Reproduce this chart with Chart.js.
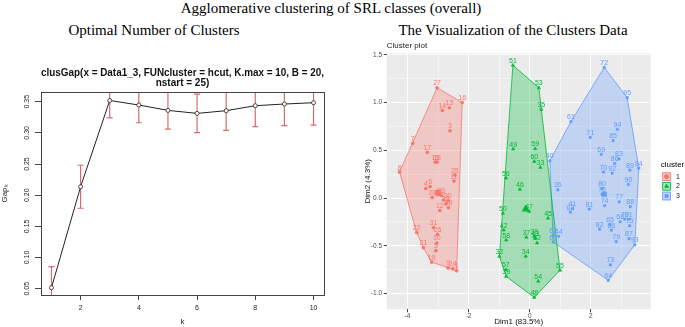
<!DOCTYPE html>
<html>
<head>
<meta charset="utf-8">
<title>Agglomerative clustering of SRL classes</title>
<script src="https://cdn.jsdelivr.net/npm/chart.js@4.4.1/dist/chart.umd.min.js"></script>
<style>
  body { margin: 0; background: #fff; }
  #page { position: relative; width: 685px; height: 327px; overflow: hidden; }
  .head { position: absolute; font-family: "Liberation Serif", "Times New Roman", serif; font-size: 15px; line-height: 15px; white-space: nowrap; transform: translateX(-50%); color: #000; }
  #gap { position: absolute; left: 0; top: 55px; }
  #clus { position: absolute; left: 340px; top: 38px; }
</style>
</head>
<body>
<div id="page">
  <div class="head" style="left:331px;top:1px">Agglomerative clustering of SRL classes (overall)</div>
  <div class="head" style="left:154px;top:23px">Optimal Number of Clusters</div>
  <div class="head" style="left:513px;top:23px">The Visualization of the Clusters Data</div>
  <canvas id="gap" width="340" height="272"></canvas>
  <canvas id="clus" width="345" height="289"></canvas>
</div>
<script>
// --- gap statistic (left) ---
var kValues = [1, 2, 3, 4, 5, 6, 7, 8, 9, 10];
var gapValues = [0.0516, 0.2136, 0.3520, 0.3447, 0.3361, 0.3313, 0.3356, 0.3436, 0.3463, 0.3484];
var gapSE = [0.0337, 0.0345, 0.0280, 0.0284, 0.0300, 0.0310, 0.0316, 0.0337, 0.0348, 0.0358];
var gapTicksX = [2, 4, 6, 8, 10];
var gapTicksY = [0.05, 0.10, 0.15, 0.20, 0.25, 0.30, 0.35];

// --- cluster plot (right) ---
var redLabels = ['1','2','3','4','5','6','7','8','9','10','11','12','13','14','15','16','17','18','19','20','21','22','23','24','25','26','27','28','29','30','31'];
var redX = [-2.39,-2.82,-2.61,-3.40,-3.07,-3.26,-3.83,-4.26,-2.67,-3.04,-2.48,-2.94,-2.63,-2.86,-3.09,-2.21,-3.35,-3.03,-3.21,-3.19,-3.48,-3.70,-2.74,-2.52,-2.45,-3.02,-3.03,-2.66,-2.90,-2.68,-3.15];
var redY = [-0.76,-0.02,0.704,0.10,-0.55,0.12,0.572,0.272,-0.73,-0.47,0.178,-0.13,0.945,0.917,0.377,1.00,0.478,0.377,-0.67,0.007,-0.52,-0.36,-0.06,-0.74,0.24,-0.38,1.154,-0.10,0.03,-0.03,-0.31];

var greenLabels = ['51','53','35','49','59','60','33','56','46','47','50','45','42','58','37','38','43','52','32','34','57','39','55','54','48'];
var greenX = [-0.55,0.30,0.38,-0.54,0.18,0.15,0.35,-0.78,-0.32,-0.02,-0.88,0.60,-0.85,-0.77,-0.11,0.15,0.18,0.24,-0.99,-0.13,-0.78,-0.77,0.99,0.28,0.15];
var greenY = [1.39,1.154,0.928,0.513,0.516,0.384,0.321,0.209,0.091,-0.14,-0.16,-0.21,-0.335,-0.44,-0.41,-0.40,-0.42,-0.47,-0.61,-0.61,-0.75,-0.82,-0.756,-0.87,-1.04];

var blueLabels = ['72','95','61','94','71','85','69','83','86','84','89','70','92','90','80','76','74','77','88','81','41','63','78','91','68','75','65','66','82','87','93','79','73','64','40','36','62','44','67'];
var blueX = [2.44,3.19,1.35,2.87,1.98,2.73,2.34,2.92,2.78,3.57,3.28,2.41,2.70,3.23,2.37,2.37,2.45,2.93,3.29,1.95,1.40,1.33,3.11,3.24,2.96,3.27,2.63,2.67,2.29,3.25,3.44,2.83,2.64,2.57,0.66,0.92,0.77,0.95,0.77];
var blueY = [1.367,1.05,0.80,0.72,0.635,0.60,0.457,0.41,0.36,0.314,0.293,0.272,0.26,0.143,0.10,0.04,-0.08,-0.04,-0.09,-0.115,-0.11,-0.146,-0.22,-0.22,-0.25,-0.29,-0.275,-0.335,-0.325,-0.425,-0.49,-0.455,-0.70,-0.86,0.39,0.087,-0.39,-0.40,-0.46];

var clusterNames = ['1', '2', '3'];
var centerX = [-3.00, -0.13, 2.44];
var centerY = [0.055, -0.115, 0.04];
var dimTicksX = [-4, -3, -2, -1, 0, 1, 2, 3];
var dimTicksY = [-1, -0.75, -0.5, -0.25, 0, 0.25, 0.5, 0.75, 1, 1.25, 1.5];

var clusterColors = ['#F8766D', '#00BA38', '#619CFF'];
var hullFills = ['rgba(248,118,109,0.3)', 'rgba(0,186,56,0.3)', 'rgba(97,156,255,0.3)'];
var clusterShapes = ['circle', 'triangle', 'rect'];

Chart.defaults.font.family = '"Liberation Sans", Arial, sans-serif';

function hull(xs, ys) {
  var p = xs.map(function(x, i) { return [x, ys[i]]; }).sort(function(a, b) { return a[0] - b[0] || a[1] - b[1]; });
  var cross = function(o, a, b) { return (a[0]-o[0])*(b[1]-o[1]) - (a[1]-o[1])*(b[0]-o[0]); };
  var lower = [], upper = [];
  p.forEach(function(q) {
    while (lower.length >= 2 && cross(lower[lower.length-2], lower[lower.length-1], q) <= 0) lower.pop();
    lower.push(q);
  });
  p.slice().reverse().forEach(function(q) {
    while (upper.length >= 2 && cross(upper[upper.length-2], upper[upper.length-1], q) <= 0) upper.pop();
    upper.push(q);
  });
  var h = lower.slice(0, -1).concat(upper.slice(0, -1));
  h.push(h[0]);
  return h.map(function(q) { return {x: q[0], y: q[1]}; });
}

// red error bars, clipped to the plot box like base R
var errorBars = {
  id: 'errorBars',
  beforeDatasetsDraw: function(chart) {
    var ctx = chart.ctx, a = chart.chartArea, x = chart.scales.x, y = chart.scales.y;
    ctx.save();
    ctx.beginPath(); ctx.rect(a.left, a.top, a.right - a.left, a.bottom - a.top); ctx.clip();
    ctx.strokeStyle = 'rgba(205,70,70,0.8)';
    ctx.lineWidth = 1.2;
    kValues.forEach(function(k, i) {
      var px = x.getPixelForValue(k);
      var lo = y.getPixelForValue(gapValues[i] - gapSE[i]);
      var hi = y.getPixelForValue(gapValues[i] + gapSE[i]);
      ctx.beginPath();
      ctx.moveTo(px, lo); ctx.lineTo(px, hi);
      ctx.moveTo(px - 3, lo); ctx.lineTo(px + 3, lo);
      ctx.moveTo(px - 3, hi); ctx.lineTo(px + 3, hi);
      ctx.stroke();
    });
    ctx.restore();
  }
};

var plotBox = {
  id: 'plotBox',
  afterDatasetsDraw: function(chart) {
    var ctx = chart.ctx, a = chart.chartArea;
    ctx.save();
    ctx.strokeStyle = '#444';
    ctx.lineWidth = 1;
    ctx.strokeRect(Math.round(a.left) + 0.5, Math.round(a.top) + 0.5, Math.round(a.right - a.left), Math.round(a.bottom - a.top));
    ctx.restore();
  }
};

new Chart(document.getElementById('gap'), {
  type: 'scatter',
  data: {
    datasets: [{
      data: kValues.map(function(k, i) { return {x: k, y: gapValues[i]}; }),
      showLine: true,
      borderColor: '#222',
      borderWidth: 1,
      pointStyle: 'circle',
      pointRadius: 2,
      pointBorderWidth: 0.8,
      pointBackgroundColor: '#fff',
      pointBorderColor: '#222'
    }]
  },
  options: {
    responsive: false,
    animation: false,
    layout: { padding: { left: 0, right: 16, top: 0, bottom: 0 } },
    plugins: {
      legend: { display: false },
      tooltip: { enabled: false },
      title: {
        display: true,
        fullSize: false,
        text: ['clusGap(x = Data1_3, FUNcluster = hcut, K.max = 10, B = 20,', 'nstart = 25)'],
        font: { size: 10, weight: 'bold', lineHeight: 1 },
        color: '#111',
        padding: { top: 13, bottom: 4 }
      }
    },
    scales: {
      x: {
        type: 'linear', min: 0.64, max: 10.36,
        afterBuildTicks: function(s) { s.ticks = gapTicksX.map(function(v) { return {value: v}; }); },
        afterFit: function(s) { s.height = 32; },
        grid: { drawOnChartArea: false, tickLength: 5, tickColor: '#444' },
        border: { display: false },
        ticks: { font: { size: 7 }, color: '#222', padding: 3.5, maxRotation: 0, autoSkip: false },
        title: { display: true, text: 'k', font: { size: 8 }, color: '#222', padding: 0 }
      },
      y: {
        type: 'linear', min: 0.0399, max: 0.3656,
        afterBuildTicks: function(s) { s.ticks = gapTicksY.map(function(v) { return {value: v}; }); },
        afterFit: function(s) { s.width = 41; },
        grid: { drawOnChartArea: false, tickLength: 6, tickColor: '#444' },
        border: { display: false },
        ticks: { font: { size: 7 }, color: '#222', padding: 1, minRotation: 90, maxRotation: 90, crossAlign: 'center', autoSkip: false,
                 callback: function(v) { return v.toFixed(2); } },
        title: { display: true, text: 'Gapₖ', font: { size: 8 }, color: '#222', padding: 0 }
      }
    }
  },
  plugins: [errorBars, plotBox]
});

// --- right chart helpers ---
var panelBg = {
  id: 'panelBg',
  beforeDraw: function(chart) {
    var ctx = chart.ctx, a = chart.chartArea;
    ctx.save();
    ctx.fillStyle = '#EBEBEB';
    ctx.fillRect(a.left, a.top, a.right - a.left, a.bottom - a.top);
    ctx.restore();
  }
};

var pointLabels = {
  id: 'pointLabels',
  afterDatasetsDraw: function(chart) {
    var ctx = chart.ctx;
    ctx.save();
    ctx.font = '7px "Liberation Sans", Arial, sans-serif';
    ctx.textAlign = 'center';
    ctx.textBaseline = 'alphabetic';
    chart.data.datasets.forEach(function(ds, i) {
      if (!ds.pointText) return;
      var meta = chart.getDatasetMeta(i);
      ctx.fillStyle = ds.borderColor;
      meta.data.forEach(function(pt, j) {
        ctx.fillText(ds.pointText[j], pt.x, pt.y - 2.5);
      });
    });
    ctx.restore();
  }
};

var clusterLegend = {
  id: 'clusterLegend',
  afterDraw: function(chart) {
    var ctx = chart.ctx, x0 = 322.3, y0 = 134.3, key = 8.6;
    ctx.save();
    ctx.font = '8px "Liberation Sans", Arial, sans-serif';
    ctx.textBaseline = 'middle';
    ctx.textAlign = 'left';
    ctx.fillStyle = '#000';
    ctx.fillText('cluster', 320.7, 127);
    clusterNames.forEach(function(name, i) {
      var y = y0 + i * 9.7;
      ctx.fillStyle = '#F2F2F2';
      ctx.fillRect(x0, y, key, key);
      ctx.fillStyle = hullFills[i];
      ctx.fillRect(x0, y, key, key);
      ctx.strokeStyle = clusterColors[i];
      ctx.lineWidth = 0.8;
      ctx.strokeRect(x0 + 0.4, y + 0.4, key - 0.8, key - 0.8);
      ctx.fillStyle = clusterColors[i];
      Chart.helpers.drawPoint(ctx, { pointStyle: clusterShapes[i], radius: 2.2, borderWidth: 0.5, rotation: 0 }, x0 + key / 2, y + key / 2);
      ctx.fillStyle = '#1a1a1a';
      ctx.font = '7px "Liberation Sans", Arial, sans-serif';
      ctx.fillText(name, 336, y + key / 2);
    });
    ctx.restore();
  }
};

function pointSet(labels, xs, ys, i) {
  return {
    type: 'scatter',
    data: xs.map(function(x, j) { return {x: x, y: ys[j]}; }),
    pointText: labels,
    pointStyle: clusterShapes[i],
    pointRadius: i === 1 ? 2 : 1.6,
    backgroundColor: clusterColors[i],
    borderColor: clusterColors[i],
    pointBorderWidth: 0.5,
    order: 1
  };
}
function hullSet(xs, ys, i) {
  return {
    type: 'line',
    data: hull(xs, ys),
    showLine: true,
    borderColor: clusterColors[i],
    borderWidth: 0.8,
    backgroundColor: hullFills[i],
    fill: 'shape',
    pointRadius: 0,
    tension: 0,
    order: 2
  };
}

var isMajorX = function(v) { return v % 2 === 0; };
var isMajorY = function(v) { return Math.abs(v * 2 - Math.round(v * 2)) < 1e-9; };

new Chart(document.getElementById('clus'), {
  type: 'scatter',
  data: {
    datasets: [
      hullSet(redX, redY, 0),
      hullSet(greenX, greenY, 1),
      hullSet(blueX, blueY, 2),
      pointSet(redLabels, redX, redY, 0),
      pointSet(greenLabels, greenX, greenY, 1),
      pointSet(blueLabels, blueX, blueY, 2),
      {
        type: 'scatter',
        data: centerX.map(function(x, i) { return {x: x, y: centerY[i]}; }),
        pointStyle: clusterShapes,
        pointRadius: [3.2, 4.2, 3.2],
        backgroundColor: clusterColors,
        borderColor: clusterColors,
        pointBorderWidth: 0.5,
        order: 0
      }
    ]
  },
  options: {
    responsive: false,
    animation: false,
    layout: { padding: { left: 0, right: 34.3, top: 0, bottom: 0 } },
    plugins: {
      legend: { display: false },
      tooltip: { enabled: false },
      title: {
        display: true,
        fullSize: false,
        align: 'start',
        text: 'Cluster plot',
        font: { size: 8, weight: 'normal', lineHeight: 1.2 },
        color: '#222',
        padding: { top: 3.2, bottom: 2.5 }
      }
    },
    scales: {
      x: {
        type: 'linear', min: -4.68, max: 3.96,
        afterBuildTicks: function(s) { s.ticks = dimTicksX.map(function(v) { return {value: v}; }); },
        afterFit: function(s) { s.height = 17.7; },
        grid: {
          color: '#fff',
          lineWidth: function(c) { return c.tick && isMajorX(c.tick.value) ? 0.9 : 0.45; },
          tickLength: 3,
          tickColor: function(c) { return c.tick && isMajorX(c.tick.value) ? '#333' : 'rgba(0,0,0,0)'; }
        },
        border: { display: false },
        ticks: { font: { size: 6.5 }, color: '#4D4D4D', padding: 0, maxRotation: 0, autoSkip: false,
                 callback: function(v) { return isMajorX(v) ? String(v) : ''; } },
        title: { display: true, text: 'Dim1 (83.5%)', font: { size: 8 }, color: '#111', padding: 0 }
      },
      y: {
        type: 'linear', min: -1.164, max: 1.515,
        afterBuildTicks: function(s) { s.ticks = dimTicksY.map(function(v) { return {value: v}; }); },
        afterFit: function(s) { s.width = 46.7; },
        grid: {
          color: '#fff',
          lineWidth: function(c) { return c.tick && isMajorY(c.tick.value) ? 0.9 : 0.45; },
          tickLength: 3,
          tickColor: function(c) { return c.tick && isMajorY(c.tick.value) ? '#333' : 'rgba(0,0,0,0)'; }
        },
        border: { display: false },
        ticks: { font: { size: 6.5 }, color: '#4D4D4D', padding: 1.7, autoSkip: false,
                 callback: function(v) { return isMajorY(v) ? v.toFixed(1) : ''; } },
        title: { display: true, text: 'Dim2 (4.3%)', font: { size: 8 }, color: '#111', padding: { top: 23, bottom: 0 } }
      }
    }
  },
  plugins: [panelBg, pointLabels, clusterLegend]
});
</script>
</body>
</html>
